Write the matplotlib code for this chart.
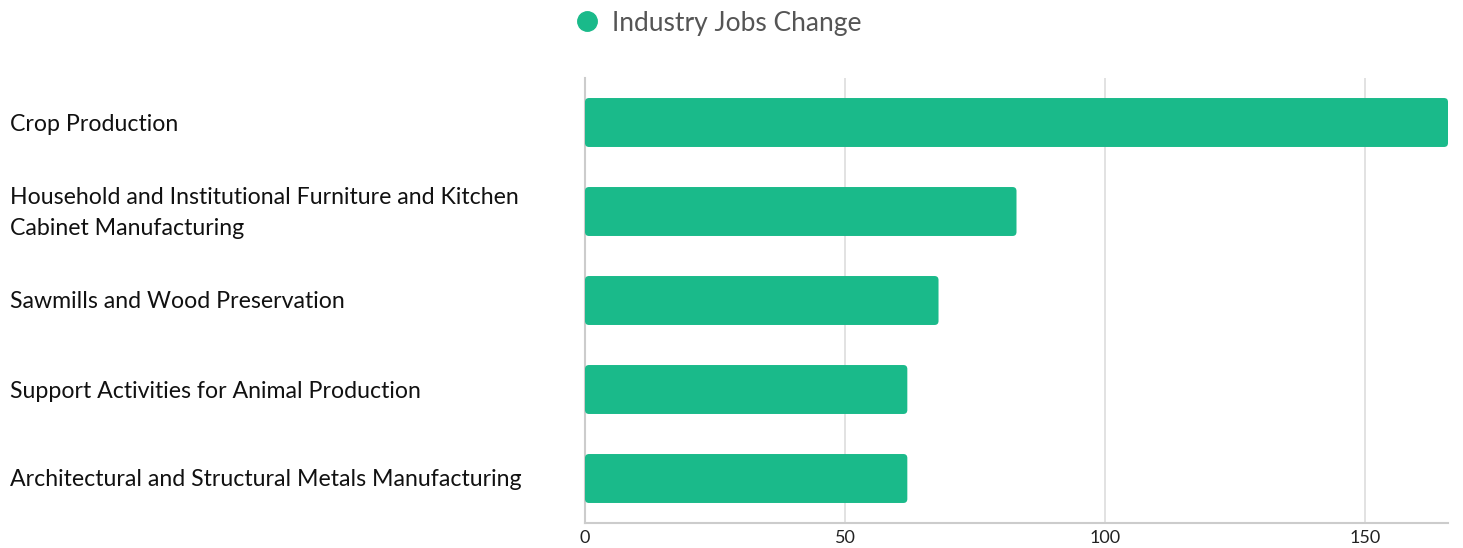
import matplotlib.pyplot as plt
from matplotlib.patches import FancyBboxPatch
from matplotlib.lines import Line2D

# =====================================================
# DATA
# =====================================================

industries = [
    "Crop Production",
    "Household and Institutional Furniture and Kitchen\nCabinet Manufacturing",
    "Sawmills and Wood Preservation",
    "Support Activities for Animal Production",
    "Architectural and Structural Metals Manufacturing",
]
jobs_change = [166, 83, 68, 62, 62]
x_ticks = [0, 50, 100, 150]

series_name = "Industry Jobs Change"
bar_color = "#1aba8a"

plt.rcParams["font.family"] = ["Lato", "DejaVu Sans"]

# =====================================================
# FIGURE
# =====================================================

fig = plt.figure(figsize=(14.63, 5.48), dpi=100)
ax = fig.add_axes([585 / 1463, 1 - 523 / 548, 863 / 1463, 445 / 548])

y_pos = list(range(len(industries)))
bars = ax.barh(y_pos, jobs_change, height=0.55, color=bar_color, zorder=3)

# swap plain rectangles for rounded ones
x_px = 863 / 166
y_px = 89
for b in bars:
    b.set_visible(False)
    rounded = FancyBboxPatch(
        (b.get_x(), b.get_y()), b.get_width(), b.get_height(),
        boxstyle="round,pad=0,rounding_size=%f" % (4 / x_px),
        mutation_aspect=x_px / y_px,
        facecolor=bar_color, edgecolor="none", zorder=3,
    )
    ax.add_patch(rounded)

ax.set_xlim(0, max(jobs_change))
ax.set_ylim(len(industries) - 0.5, -0.5)

ax.set_xticks(x_ticks)
ax.set_xticklabels([str(t) for t in x_ticks], fontsize=13, color="#222222")
ax.set_yticks(y_pos)
ax.set_yticklabels([])
ax.tick_params(axis="both", length=0, pad=5)

ax.grid(axis="x", color="#dddddd", linewidth=1.2, zorder=0)
for s in ["top", "right"]:
    ax.spines[s].set_visible(False)
ax.spines["left"].set_color("#cccccc")
ax.spines["left"].set_linewidth(1.5)
ax.spines["bottom"].set_color("#cccccc")
ax.spines["bottom"].set_linewidth(1.5)

# category labels, left aligned at figure edge
for i, name in enumerate(industries):
    y_fig = 1 - (124 + 89 * i) / 548
    fig.text(10 / 1463, y_fig, name, ha="left", va="center",
             fontsize=16.7, color="#111111", linespacing=1.58)

# =====================================================
# LEGEND
# =====================================================

handle = Line2D([], [], marker="o", linestyle="none", markersize=14,
                markerfacecolor=bar_color, markeredgecolor=bar_color)
leg = fig.legend([handle], [series_name], loc="center",
                 bbox_to_anchor=(718 / 1463, 1 - 23 / 548),
                 frameon=False, fontsize=19, handletextpad=0.45,
                 handlelength=1.0)
for t in leg.get_texts():
    t.set_color("#555555")

plt.savefig("out.png", dpi=100)
plt.close()
